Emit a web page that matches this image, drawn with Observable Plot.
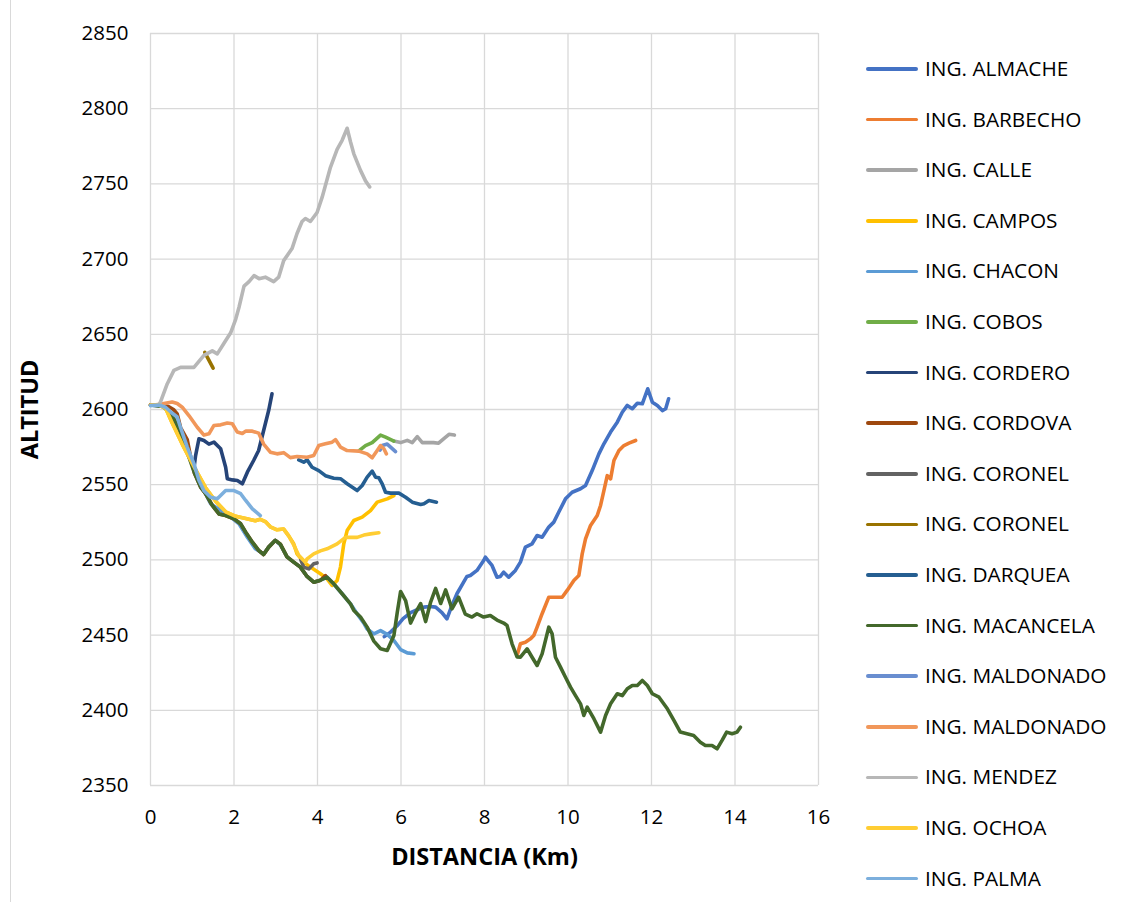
<!DOCTYPE html>
<html>
<head>
<meta charset="utf-8">
<script src="https://cdn.jsdelivr.net/npm/d3@7"></script>
<script src="https://cdn.jsdelivr.net/npm/@observablehq/plot@0.6"></script>
<style>
  html, body { margin: 0; padding: 0; background: #fff; }
  #wrap { position: relative; width: 1132px; height: 902px; overflow: hidden; font-family: "Open Sans", sans-serif; }
  #chart { position: absolute; left: 0; top: 0; }
  #legend { position: absolute; left: 0; top: 0; }
  .lg-line { position: absolute; left: 866px; width: 52px; height: 3.6px; border-radius: 2px; }
  .lg-text { position: absolute; left: 925px; font-size: 20.8px; color: #000; line-height: 1; white-space: nowrap; }
  #edge { position: absolute; left: 10px; top: 0; width: 1px; height: 902px; background: #d9d9d9; }
</style>
</head>
<body>
<div id="wrap">
  <div id="edge"></div>
  <div id="chart"></div>
  <div id="legend"></div>
</div>
<script>
// ---- Data (distance km, altitude m) ----
const names = ["ING. ALMACHE","ING. BARBECHO","ING. CALLE","ING. CAMPOS","ING. CHACON","ING. COBOS","ING. CORDERO","ING. CORDOVA","ING. CORONEL","ING. CORONEL","ING. DARQUEA","ING. MACANCELA","ING. MALDONADO","ING. MALDONADO","ING. MENDEZ","ING. OCHOA","ING. PALMA"];
const colors = ["#4472C4","#ED7D31","#A5A5A5","#FFC000","#5B9BD5","#70AD47","#264478","#9E480E","#636363","#997300","#255E91","#43682B","#698ED0","#F1975A","#B7B7B7","#FFCD33","#7CAFDD"];
const xTicks = [0,2,4,6,8,10,12,14,16];
const yTicks = [2350,2400,2450,2500,2550,2600,2650,2700,2750,2800,2850];

const almache = [[5.6,2449],[5.75,2452],[5.9,2456],[6.05,2461],[6.23,2465],[6.4,2467],[6.55,2468.6],[6.7,2469],[6.83,2468.6],[6.98,2465],[7.1,2460.8],[7.22,2469.7],[7.34,2477.5],[7.5,2485.2],[7.58,2489],[7.66,2489.6],[7.82,2493],[7.98,2499.6],[8.02,2501.8],[8.1,2499],[8.18,2496.3],[8.3,2488.5],[8.38,2489],[8.46,2491.8],[8.58,2488.5],[8.74,2493],[8.86,2498.5],[8.98,2508.5],[9.14,2510.7],[9.26,2516.2],[9.38,2515.1],[9.54,2521.8],[9.66,2525.1],[9.78,2531.8],[9.94,2540.6],[10.1,2545],[10.3,2547.3],[10.42,2549.5],[10.58,2559.4],[10.74,2570.5],[10.86,2577.2],[11.02,2585],[11.18,2591.6],[11.3,2598.2],[11.42,2602.7],[11.54,2600.5],[11.66,2604.2],[11.78,2603.8],[11.91,2613.8],[12.02,2604.9],[12.14,2602.7],[12.26,2599.3],[12.34,2600.5],[12.41,2607.1]];
const barbecho = [[8.78,2436.4],[8.86,2444.2],[8.98,2445.3],[9.1,2447.5],[9.18,2449.7],[9.26,2455.3],[9.38,2464.2],[9.54,2475.2],[9.7,2475.2],[9.86,2475.2],[9.98,2479.7],[10.14,2486.3],[10.26,2489.6],[10.34,2504],[10.42,2514],[10.54,2522.9],[10.7,2529.5],[10.78,2536.2],[10.86,2546.1],[10.94,2556],[11.02,2553.9],[11.1,2566.1],[11.22,2572.7],[11.34,2576],[11.46,2577.6],[11.62,2579.4]];
const calle = [[5.83,2579],[5.99,2578],[6.15,2579.5],[6.27,2578],[6.39,2582],[6.51,2578],[6.63,2578],[6.78,2578],[6.9,2577.6],[7.02,2580.5],[7.15,2583.5],[7.28,2583]];
const campos = [[0,2603],[0.2,2603],[0.36,2601],[0.52,2591],[0.76,2577],[1.04,2562],[1.32,2548],[1.56,2539],[1.8,2532],[2.04,2529],[2.28,2527.5],[2.51,2526],[2.63,2527],[2.75,2525.5],[2.87,2522],[3.03,2520],[3.19,2520.5],[3.31,2516],[3.43,2510.7],[3.51,2504],[3.67,2498.5],[3.83,2495.2],[4.07,2490.8],[4.23,2487.4],[4.35,2483],[4.47,2486.3],[4.55,2495.2],[4.63,2510.7],[4.71,2519.5],[4.87,2526.2],[5.07,2528.4],[5.27,2532.8],[5.43,2538.4],[5.67,2540.6],[5.83,2542.8]];
const chacon = [[0,2603],[0.3,2602],[0.5,2597],[0.7,2586],[0.9,2572],[1.1,2556],[1.28,2546],[1.44,2537.3],[1.68,2532.8],[1.92,2528.4],[2.12,2524],[2.32,2515],[2.51,2507.4],[2.71,2504],[2.83,2508.5],[2.99,2513],[3.11,2510],[3.27,2502],[3.43,2498.5],[3.59,2495.2],[3.75,2489],[3.91,2485.2],[4.07,2486.5],[4.23,2488.5],[4.39,2484],[4.59,2477.5],[4.79,2470.8],[4.95,2464],[5.11,2458],[5.19,2454],[5.35,2450.8],[5.51,2453],[5.67,2450.5],[5.83,2446.4],[5.99,2440.4],[6.15,2438.2],[6.31,2437.6]];
const cobos = [[4.99,2572.5],[5.15,2576],[5.31,2578],[5.51,2583],[5.63,2581.6],[5.83,2579]];
const cordero = [[1.05,2563],[1.08,2569.4],[1.16,2580.5],[1.28,2579.4],[1.4,2577],[1.52,2578.3],[1.68,2573.9],[1.8,2561.6],[1.84,2553.9],[1.96,2553.2],[2.08,2552.8],[2.2,2550.6],[2.32,2558.3],[2.47,2566.1],[2.59,2572.7],[2.71,2586],[2.83,2599.3],[2.91,2610.4]];
const cordova = [[0,2603],[0.25,2603],[0.43,2602],[0.55,2600],[0.64,2597],[0.72,2588],[0.8,2584],[0.88,2580],[0.95,2570],[1.05,2558],[1.2,2548.4],[1.32,2544],[1.48,2536.2],[1.64,2530.6],[1.8,2529.5],[2.0,2527.3],[2.16,2524],[2.28,2518.4],[2.44,2511.8],[2.59,2506.3],[2.71,2503.6],[2.83,2508.5],[2.99,2513],[3.11,2510.5],[3.27,2502],[3.43,2498.5],[3.59,2495.2],[3.75,2489],[3.91,2485.2],[4.07,2486.5],[4.19,2489.6]];
const coronel1 = [[3.6,2500],[3.67,2495.2],[3.79,2494],[3.91,2497.4],[3.99,2498]];
const coronel2 = [[1.3,2638],[1.36,2634.8],[1.5,2627.5]];
const darquea = [[3.55,2566.5],[3.67,2565],[3.75,2566.5],[3.87,2561.6],[4.03,2559.4],[4.19,2556],[4.39,2554.3],[4.55,2554],[4.71,2550.6],[4.95,2546.1],[5.07,2549.5],[5.19,2555],[5.31,2559],[5.39,2555],[5.47,2554.6],[5.55,2550.6],[5.63,2545],[5.75,2544.4],[5.95,2544.4],[6.11,2541.7],[6.27,2538.4],[6.47,2536.8],[6.55,2537.3],[6.67,2539.5],[6.85,2538.4]];
const macancela = [[0,2603],[0.3,2602],[0.5,2597],[0.7,2586],[0.9,2570],[1.05,2558],[1.2,2548.4],[1.32,2544],[1.48,2536.2],[1.64,2530.6],[1.8,2529.5],[2.0,2527.3],[2.16,2524],[2.28,2518.4],[2.44,2511.8],[2.59,2506.3],[2.71,2503.6],[2.83,2508.5],[2.99,2513],[3.11,2510.5],[3.27,2502],[3.43,2498.5],[3.59,2495.2],[3.75,2489],[3.91,2485.2],[4.07,2486.5],[4.23,2488.5],[4.39,2484.1],[4.59,2477.5],[4.79,2470.8],[4.87,2466.4],[5.03,2462],[5.19,2455.3],[5.35,2446],[5.51,2440.9],[5.67,2439.8],[5.83,2449.7],[5.91,2465],[5.99,2479],[6.11,2473],[6.23,2458],[6.35,2465],[6.47,2471],[6.59,2459],[6.71,2472],[6.83,2481],[6.95,2471],[7.07,2480],[7.22,2467.5],[7.38,2475.2],[7.54,2464],[7.7,2462],[7.82,2464.2],[7.98,2462],[8.14,2463],[8.3,2460],[8.46,2458],[8.54,2456.4],[8.66,2444.2],[8.78,2435.5],[8.86,2435.3],[9.02,2440.9],[9.14,2435.3],[9.26,2429.8],[9.38,2437.5],[9.54,2455.3],[9.62,2450.8],[9.7,2435.3],[9.82,2428.7],[9.94,2422],[10.06,2415.4],[10.18,2409.8],[10.3,2404.3],[10.38,2396.6],[10.46,2402.1],[10.62,2394.4],[10.78,2385.5],[10.9,2396.6],[11.02,2404.3],[11.18,2411],[11.3,2409.8],[11.42,2414.3],[11.54,2416.5],[11.66,2416.5],[11.78,2419.8],[11.9,2416.5],[12.02,2411],[12.18,2408.7],[12.38,2401],[12.54,2393.2],[12.69,2385.5],[12.85,2384.4],[13.01,2383.3],[13.17,2378.8],[13.29,2376.6],[13.45,2376.6],[13.57,2374.4],[13.69,2380],[13.8,2385.5],[13.93,2384.4],[14.05,2385.5],[14.13,2388.8]];
const maldonado1 = [[5.5,2573],[5.55,2576],[5.67,2577],[5.75,2575],[5.87,2572]];
const maldonado2 = [[0,2603],[0.1,2603],[0.32,2604],[0.52,2605],[0.64,2604],[0.76,2601.5],[0.92,2596],[1.12,2588.2],[1.28,2583],[1.4,2583.8],[1.52,2589.4],[1.68,2589.8],[1.84,2591],[1.96,2590.5],[2.08,2585],[2.2,2584],[2.28,2585.6],[2.44,2585.6],[2.59,2584.3],[2.71,2577],[2.87,2571.6],[3.03,2570.5],[3.19,2571.3],[3.35,2568],[3.51,2568.7],[3.75,2568.3],[3.91,2569.4],[4.03,2576],[4.19,2577.2],[4.35,2578.3],[4.43,2580],[4.55,2575],[4.71,2572.7],[4.99,2572.3],[5.19,2570.5],[5.31,2567.9],[5.43,2572.7],[5.51,2576],[5.59,2573.9],[5.65,2570.5]];
const mendez = [[0.2,2603],[0.24,2605],[0.4,2617],[0.56,2626],[0.72,2628],[1.04,2628],[1.16,2632],[1.28,2636],[1.48,2639],[1.6,2637],[1.76,2644],[1.92,2651],[2.04,2660],[2.12,2668],[2.24,2682],[2.36,2685],[2.48,2689],[2.6,2687],[2.75,2688],[2.95,2685],[3.07,2688],[3.19,2699],[3.39,2707],[3.51,2717],[3.63,2725],[3.71,2727],[3.83,2725],[3.99,2731],[4.11,2741],[4.31,2761],[4.47,2773],[4.59,2779],[4.71,2787],[4.79,2778],[4.87,2770],[5.03,2759],[5.15,2752],[5.25,2748]];
const ochoa = [[0,2603],[0.2,2603],[0.36,2601],[0.52,2591],[0.76,2577],[1.04,2562],[1.32,2548],[1.56,2539],[1.8,2532],[2.04,2529],[2.28,2527.5],[2.51,2526],[2.63,2527],[2.75,2525.5],[2.87,2522],[3.03,2520],[3.19,2520.5],[3.31,2516],[3.43,2510],[3.55,2503],[3.71,2498.5],[3.75,2500.7],[3.91,2504],[4.07,2506],[4.23,2507.4],[4.47,2510.7],[4.67,2515],[4.95,2515],[5.11,2516.5],[5.27,2517.3],[5.47,2518]];
const palma = [[0,2602.6],[0.2,2603],[0.36,2601.5],[0.5,2598],[0.64,2595],[0.72,2588],[0.88,2575],[1.04,2564],[1.16,2553],[1.28,2546],[1.44,2541.7],[1.6,2540.6],[1.8,2546.1],[2.0,2546.1],[2.16,2544],[2.28,2539.5],[2.44,2534],[2.63,2529.5]];

const seriesPts = [almache, barbecho, calle, campos, chacon, cobos, cordero, cordova, coronel1, coronel2, darquea, macancela, maldonado1, maldonado2, mendez, ochoa, palma];

// ---- Chart ----
const lineMarks = seriesPts.map((pts, i) =>
  Plot.line(pts.map(([km, alt]) => ({km, alt})), {
    x: "km", y: "alt", stroke: colors[i], strokeWidth: 3.6,
    strokeLinejoin: "round", strokeLinecap: "round"
  })
);

const chart = Plot.plot({
  width: 850,
  height: 902,
  marginLeft: 150,
  marginRight: 32,
  marginTop: 33,
  marginBottom: 117,
  style: {fontFamily: "'Open Sans', sans-serif", fontSize: "20.5px", color: "#000", background: "transparent", overflow: "visible"},
  x: {domain: [0, 16], label: null},
  y: {domain: [2350, 2850], label: null},
  marks: [
    Plot.gridX(xTicks, {stroke: "#d9d9d9", strokeOpacity: 1, strokeWidth: 1.3}),
    Plot.gridY(yTicks, {stroke: "#d9d9d9", strokeOpacity: 1, strokeWidth: 1.3}),
    Plot.axisX(xTicks, {tickSize: 0, tickPadding: 24, fontSize: 20.5, fill: "#000", label: null, tickFormat: d => String(d)}),
    Plot.axisY(yTicks, {tickSize: 0, tickPadding: 22, fontSize: 20.5, fill: "#000", label: null, tickFormat: d => String(d)}),
    ...lineMarks,
    Plot.text(["DISTANCIA (Km)"], {frameAnchor: "bottom", dy: 72, lineAnchor: "middle", textAnchor: "middle", text: d => d, fontSize: 23.5, fontWeight: "bold", fill: "#000"}),
    Plot.text(["ALTITUD"], {frameAnchor: "left", dx: -120, rotate: -90, textAnchor: "middle", lineAnchor: "middle", text: d => d, fontSize: 23.5, fontWeight: "bold", fill: "#000"})
  ]
});
document.getElementById("chart").appendChild(chart);

// ---- Legend ----
const legend = document.getElementById("legend");
names.forEach((n, i) => {
  const cy = 69 + i * 50.6;
  const ln = document.createElement("div");
  ln.className = "lg-line";
  ln.style.top = (cy - 1.8) + "px";
  ln.style.background = colors[i];
  legend.appendChild(ln);
  const tx = document.createElement("div");
  tx.className = "lg-text";
  tx.style.top = (cy - 11) + "px";
  tx.textContent = n;
  legend.appendChild(tx);
});
</script>
</body>
</html>
